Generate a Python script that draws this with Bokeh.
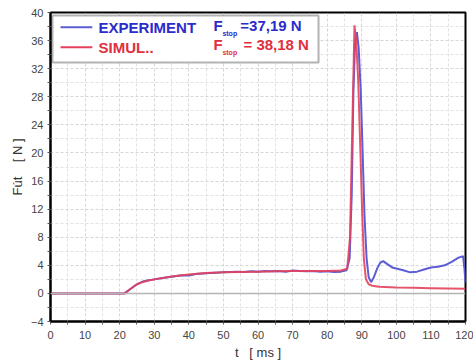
from bokeh.plotting import figure
from bokeh.models import BoxAnnotation, Label, Span, FixedTicker, Range1d
from bokeh.embed import file_html
from bokeh.resources import INLINE

# ---- data ----
t_exp = [0, 10, 21.3, 23, 25, 26.5, 28, 30, 32, 34, 36, 38, 40, 42, 44, 46, 48, 50,
         52, 54, 56, 58, 60, 62, 64, 66, 68, 70, 72, 74, 76, 78, 80, 82, 84, 85.6,
         86.5, 87.1, 87.6, 88.1, 88.6, 89.1, 89.7, 90.2, 90.8, 91.4, 92.0, 92.7,
         93.5, 94.5, 95.4, 96.2, 97.3, 98.8, 100.3, 102, 104, 106, 108, 110, 112,
         114, 116, 118, 119.3, 119.7, 120]
f_exp = [0, 0, 0, 0.6, 1.3, 1.65, 1.85, 2.0, 2.15, 2.3, 2.45, 2.6, 2.55, 2.75, 2.85,
         2.9, 2.95, 3.0, 3.05, 3.1, 3.05, 3.15, 3.1, 3.2, 3.15, 3.2, 3.1, 3.25, 3.2,
         3.15, 3.2, 3.1, 3.15, 3.05, 3.1, 3.3,
         5.0, 14.0, 29.0, 36.0, 37.19, 35.0, 29.0, 21.0, 11.0, 5.0, 2.3, 1.6,
         2.3, 3.6, 4.4, 4.6, 4.2, 3.7, 3.5, 3.3, 3.0, 3.1, 3.4, 3.7, 3.8,
         4.0, 4.5, 5.1, 5.3, 3.5, 1.5]

t_sim = [0, 10, 21.5, 23, 25, 26.5, 28, 30, 35, 40, 45, 50, 55, 60, 65, 70, 75, 80,
         84, 85.8, 86.6, 87.2, 87.9, 88.4, 89.0, 89.5, 90.1, 90.6, 91.2, 92.0, 93,
         95, 100, 105, 110, 115, 120]
f_sim = [0, 0, 0, 0.6, 1.3, 1.6, 1.8, 2.0, 2.4, 2.7, 2.9, 3.0, 3.05, 3.1, 3.15, 3.2,
         3.2, 3.2, 3.25, 3.5, 8.0, 22.0, 38.18, 36.0, 30.0, 22.0, 12.0, 5.0, 2.0,
         1.3, 1.1, 0.95, 0.85, 0.8, 0.75, 0.7, 0.65]

x_ticks = [0, 10, 20, 30, 40, 50, 60, 70, 80, 90, 100, 110, 120]
y_ticks = [-4, 0, 4, 8, 12, 16, 20, 24, 28, 32, 36, 40]

series_names = ["EXPERIMENT", "SIMUL.."]
fstop_texts = ["=37,19 N", "= 38,18 N"]

BLUE_LINE = "#5c5cd6"
RED_LINE = "#e6405c"
BLUE_TXT = "#2b2bcc"
RED_TXT = "#e0303e"
FONT = "Liberation Sans"
NB = "\u00a0"

p = figure(width=473, height=363, output_backend="svg", toolbar_location=None,
           x_range=Range1d(0, 120), y_range=Range1d(-4, 40),
           min_border_left=50, min_border_right=8, min_border_top=12,
           min_border_bottom=42)
p.background_fill_color = "white"
p.outline_line_color = "black"
p.outline_line_width = 2

for ax in (p.xaxis[0], p.yaxis[0]):
    ax.axis_line_color = "black"
    ax.axis_line_width = 2
    ax.major_tick_in = 0
    ax.major_tick_out = 3
    ax.minor_tick_in = 0
    ax.minor_tick_out = 3
    ax.major_tick_line_color = "#555555"
    ax.minor_tick_line_color = "#555555"
    ax.major_label_text_font = FONT
    ax.major_label_text_font_size = "11px"
    ax.major_label_text_color = "#444444"
    ax.axis_label_text_font = FONT
    ax.axis_label_text_font_size = "13px"
    ax.axis_label_text_font_style = "normal"
    ax.axis_label_text_color = "#333333"

p.xaxis.ticker = FixedTicker(ticks=x_ticks, minor_ticks=[v + 5 for v in x_ticks[:-1]])
p.yaxis.ticker = FixedTicker(ticks=y_ticks, minor_ticks=[v + 2 for v in y_ticks[:-1]])
p.xaxis.major_label_standoff = 6
p.yaxis.major_label_standoff = 4
p.xaxis.axis_label = "t" + NB * 3 + "[" + NB + "ms" + NB + "]"
p.yaxis.axis_label = "Fút" + NB * 4 + "[" + NB + "N" + NB + "]"
p.xaxis.axis_label_standoff = 3
p.yaxis.axis_label_standoff = 3

p.xgrid.grid_line_color = "#d6d6d6"
p.xgrid.grid_line_dash = "3 2"
p.ygrid.grid_line_color = "#d6d6d6"
p.ygrid.grid_line_dash = "3 2"
p.xgrid.minor_grid_line_color = "#e2e2e2"
p.xgrid.minor_grid_line_dash = "3 2"
p.ygrid.minor_grid_line_color = "#e2e2e2"
p.ygrid.minor_grid_line_dash = "3 2"

p.add_layout(Span(location=0, dimension="width", line_color="#b4b4b4", line_width=1.5))

# data lines
p.line(t_exp, f_exp, line_color=BLUE_LINE, line_width=2)
p.line(t_sim, f_sim, line_color=RED_LINE, line_width=2, line_alpha=0.9)

# ---- legend box (layout in data units) ----
box = BoxAnnotation(left=0.58, right=77.5, top=39.57, bottom=32.88,
                    fill_color="white", fill_alpha=1.0,
                    line_color="black", line_width=2, level="underlay")
p.add_layout(box)

leg_rows_y = [37.9, 35.06]
line_cols = [BLUE_LINE, RED_LINE]
txt_cols = [BLUE_TXT, RED_TXT]
for i in range(2):
    yy = leg_rows_y[i]
    p.line([2.9, 12.1], [yy, yy], line_color=line_cols[i], line_width=2)
    p.add_layout(Label(x=13.9, y=yy, text=series_names[i], text_font=FONT,
                       text_font_size="15px", text_font_style="bold",
                       text_color=txt_cols[i], text_baseline="middle"))

f_y = [38.15, 35.5]
sub_y = [37.0, 34.3]
eq_x = [54.9, 55.8]
for i in range(2):
    p.add_layout(Label(x=47.1, y=f_y[i], text="F", text_font=FONT,
                       text_font_size="15px", text_font_style="bold",
                       text_color=txt_cols[i], text_baseline="middle"))
    p.add_layout(Label(x=49.7, y=sub_y[i], text="stop", text_font=FONT,
                       text_font_size="7px", text_font_style="bold",
                       text_color=txt_cols[i], text_baseline="middle"))
    p.add_layout(Label(x=eq_x[i], y=f_y[i], text=fstop_texts[i], text_font=FONT,
                       text_font_size="15px", text_font_style="bold",
                       text_color=txt_cols[i], text_baseline="middle"))

open("out.html", "w").write(file_html(p, INLINE))
